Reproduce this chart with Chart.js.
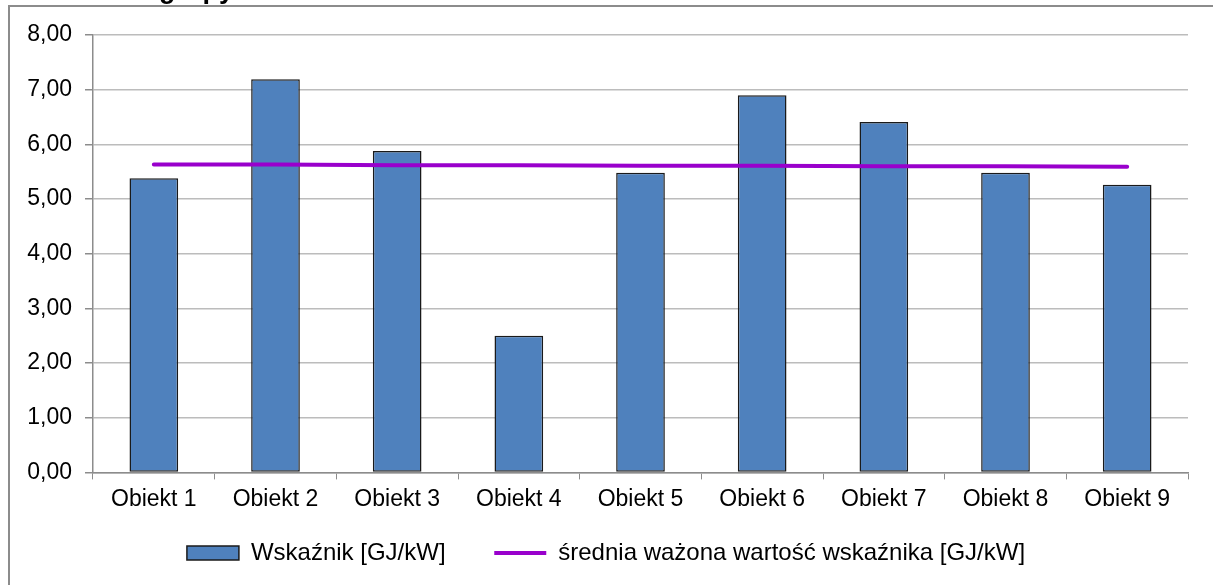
<!DOCTYPE html>
<html>
<head>
<meta charset="utf-8">
<script src="https://cdn.jsdelivr.net/npm/chart.js@4.4.0/dist/chart.umd.min.js"></script>
<style>
  html, body { margin: 0; padding: 0; background: #fff; overflow: hidden; }
  #wrap { position: relative; width: 1213px; height: 585px; }
  #frame { position: absolute; left: 8px; top: 5px; right: -10px; bottom: -10px;
           border-top: 2px solid #8c8c8c; border-left: 2px solid #8c8c8c; pointer-events: none; }
  #title { position: absolute; left: 159px; top: -26px; font: bold 27px 'Liberation Sans', Arial, sans-serif;
           color: #000; white-space: nowrap; }
</style>
</head>
<body>
<div id="wrap">
  <canvas id="myChart" width="1213" height="585"></canvas>
  <div id="title">grupy</div>
  <div id="frame"></div>
</div>
<script>
var labels = ['Obiekt 1', 'Obiekt 2', 'Obiekt 3', 'Obiekt 4', 'Obiekt 5', 'Obiekt 6', 'Obiekt 7', 'Obiekt 8', 'Obiekt 9'];
var wskaznik = [5.38, 7.19, 5.88, 2.50, 5.48, 6.90, 6.41, 5.48, 5.26];
var srednia = [5.63, 5.63, 5.62, 5.62, 5.61, 5.61, 5.60, 5.60, 5.59];

var FONT = "'Liberation Sans', Arial, sans-serif";

var ctx = document.getElementById('myChart').getContext('2d');
var myChart = new Chart(ctx, {
    type: 'bar',
    data: {
      labels: labels,
      datasets: [{
          type: 'line',
          label: 'średnia ważona wartość wskaźnika [GJ/kW]',
          data: srednia,
          borderColor: '#9900cc',
          backgroundColor: '#9900cc',
          borderWidth: 4,
          borderCapStyle: 'round',
          pointRadius: 0,
          pointHoverRadius: 0,
          tension: 0,
          order: 0
        }, {
          label: 'Wskaźnik [GJ/kW]',
          data: wskaznik,
          backgroundColor: '#4f81bd',
          borderColor: '#1a1a1a',
          borderWidth: 1.5,
          borderSkipped: false,
          barPercentage: 1,
          categoryPercentage: 0.4,
          order: 1
        }
      ]
    },
    options: {
      responsive: false,
      animation: false,
      layout: { padding: { left: 24, right: 25, top: 35, bottom: 10 } },
      plugins: {
        tooltip: { enabled: false },
        legend: {
          position: 'bottom',
          reverse: true,
          labels: {
            color: '#000',
            font: { family: FONT, size: 24 },
            usePointStyle: true,
            pointStyleWidth: 52,
            boxHeight: 14,
            padding: 22,
            generateLabels: function(chart) {
              var items = Chart.defaults.plugins.legend.labels.generateLabels(chart);
              items.forEach(function(it) {
                var ds = chart.data.datasets[it.datasetIndex];
                if (ds.type === 'line') {
                  it.pointStyle = 'line';
                  it.lineWidth = 4;
                  it.strokeStyle = '#9900cc';
                } else {
                  it.pointStyle = 'rect';
                  it.lineWidth = 1.5;
                  it.text = it.text + '    ';
                }
              });
              return items;
            }
          }
        }
      },
      scales: {
        x: {
          offset: true,
          grid: { offset: true, drawOnChartArea: false, drawTicks: true, tickLength: 7, color: '#8c8c8c' },
          border: { color: '#8c8c8c', width: 1.5 },
          ticks: { color: '#000', font: { family: FONT, size: 23 }, padding: 6, maxRotation: 0 }
        },
        y: {
          min: 0,
          max: 8,
          afterFit: function(scale) { scale.width = 69; },
          grid: { color: '#bcbcbc', lineWidth: 1.5, tickLength: 8, tickColor: '#8c8c8c' },
          border: { color: '#8c8c8c', width: 1.5 },
          ticks: {
            stepSize: 1,
            color: '#000',
            padding: 13,
            font: { family: FONT, size: 23 },
            callback: function(v) { return v.toFixed(2).replace('.', ','); }
          }
        }
      }
    }
});
</script>
</body>
</html>
